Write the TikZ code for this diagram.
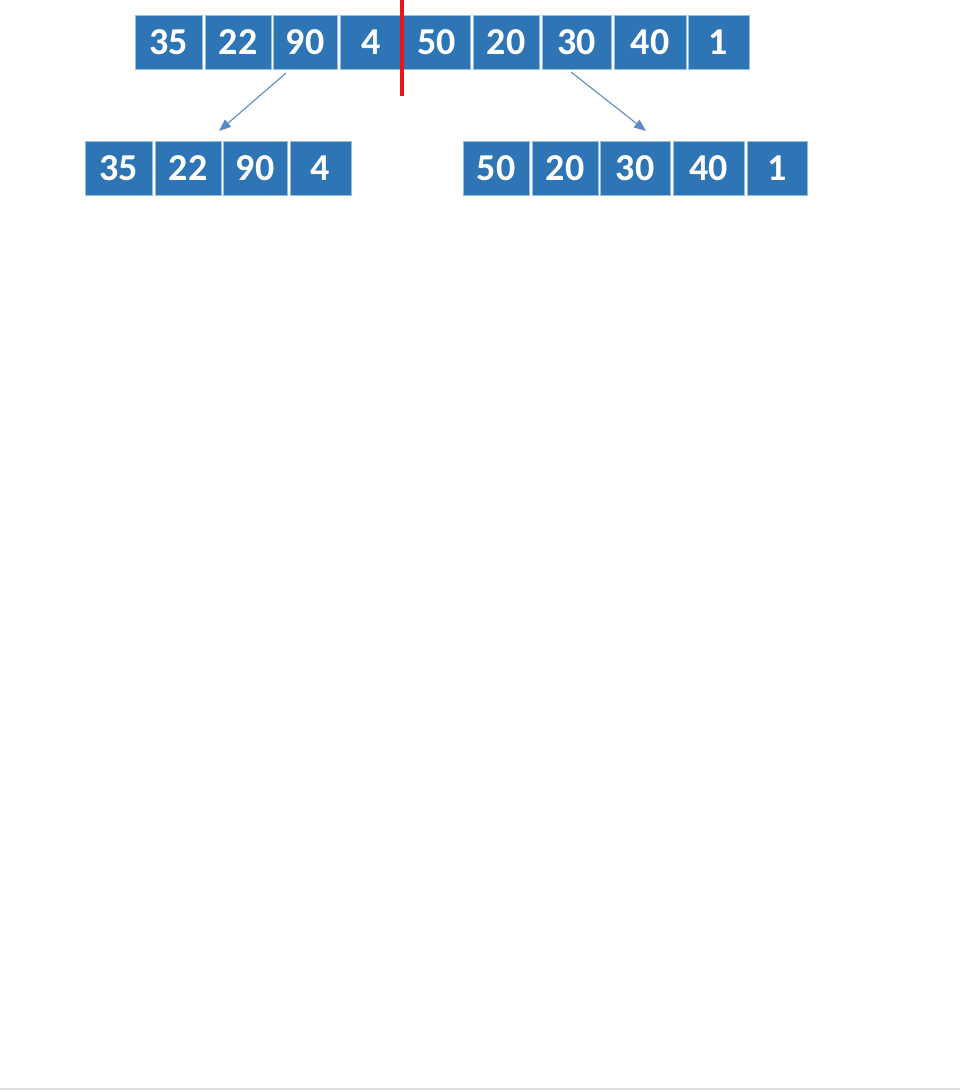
\documentclass[tikz,border=0pt]{standalone}
\usepackage{fontspec}
\setmainfont{Carlito}
\usetikzlibrary{arrows.meta}
\definecolor{cellblue}{RGB}{46,117,182}
\definecolor{celledge}{RGB}{150,190,225}
\definecolor{arrblue}{RGB}{88,138,198}
\definecolor{splitred}{RGB}{235,20,30}
\tikzset{
  cell/.style={fill=cellblue, draw=celledge, line width=0.6pt, inner sep=0pt,
    minimum height=40.5pt, text=white, font=\fontsize{28.5}{32}\selectfont\bfseries},
  arr/.style={draw=arrblue, line width=0.8pt, -{Triangle[length=9pt,width=7pt]}},
}
\begin{document}
\begin{tikzpicture}[x=0.75pt,y=-0.75pt]
\useasboundingbox (0,0) rectangle (960,1090);
% top row
\node[cell, minimum width=50.25pt] (t1) at (168.5,42) {35};
\node[cell, minimum width=49.5pt]  (t2) at (238,42) {22};
\node[cell, minimum width=48pt]    (t3) at (305,42) {90};
\node[cell, minimum width=46.5pt]  (t4) at (371,42) {4};
\node[cell, minimum width=50.25pt] (t5) at (436.5,42) {50};
\node[cell, minimum width=49.5pt]  (t6) at (506,42) {20};
\node[cell, minimum width=51.75pt] (t7) at (576.5,42) {30};
\node[cell, minimum width=54pt]    (t8) at (650,42) {40};
\node[cell, minimum width=45.75pt] (t9) at (718.5,42) {1};
% bottom left row
\node[cell, minimum width=50.25pt] (b1) at (118.5,168) {35};
\node[cell, minimum width=49.5pt]  (b2) at (188,168) {22};
\node[cell, minimum width=48pt]    (b3) at (255,168) {90};
\node[cell, minimum width=45.75pt] (b4) at (320.5,168) {4};
% bottom right row
\node[cell, minimum width=49.5pt]  (c1) at (496,168) {50};
\node[cell, minimum width=49.5pt]  (c2) at (565,168) {20};
\node[cell, minimum width=52.5pt]  (c3) at (635,168) {30};
\node[cell, minimum width=53.25pt] (c4) at (708.5,168) {40};
\node[cell, minimum width=45pt]    (c5) at (777,168) {1};
% split line
\coordinate (rtop) at (402,0);
\coordinate (rbot) at (402,96);
\draw[splitred, line width=2.4pt] (rtop) -- (rbot);
% arrows
\coordinate (a1s) at (286,73);
\coordinate (a1e) at (219,131);
\coordinate (a2s) at (571,72);
\coordinate (a2e) at (646,131);
\draw[arr] (a1s) -- (a1e);
\draw[arr] (a2s) -- (a2e);
% faint bottom rule
\coordinate (gl) at (0,1089);
\coordinate (gr) at (960,1089);
\draw[black!13, line width=1.2pt] (gl) -- (gr);
\end{tikzpicture}
\end{document}
